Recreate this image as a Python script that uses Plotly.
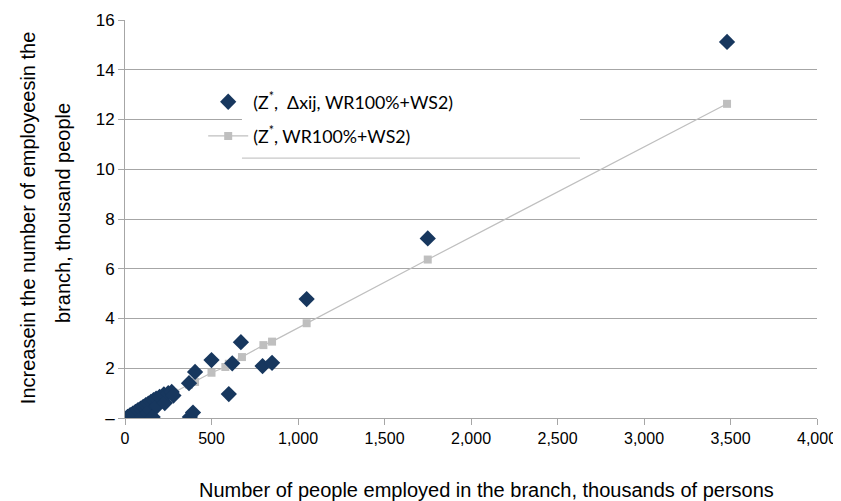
import plotly.graph_objects as go

# Blue diamonds: (Z*, Δxij, WR100%+WS2)
x_blue = [15, 30, 45, 60, 75, 90, 100, 105, 120, 130, 135, 145, 150, 160, 165, 180, 185, 200, 225, 230, 250, 270, 280,
          370, 375, 393, 405, 500, 600, 620, 670, 795, 850, 1050, 1750, 3480]
y_blue = [0.05, 0.12, 0.18, 0.25, 0.32, 0.38, 0.05, 0.45, 0.52, 0.2, 0.58, 0.32, 0.65, 0.04, 0.72, 0.78, 0.48, 0.85, 0.95, 0.6, 1.0, 1.05, 0.9,
          1.4, 0.04, 0.22, 1.85, 2.33, 0.96, 2.2, 3.05, 2.09, 2.22, 4.78, 7.22, 15.12]

# Grey squares with line: (Z*, WR100%+WS2)
x_grey = [0, 100, 200, 280, 370, 405, 500, 580, 600, 676, 800, 850, 1050, 1750, 3480]
y_grey = [0.0, 0.36, 0.73, 1.02, 1.34, 1.45, 1.82, 2.05, 2.18, 2.45, 2.93, 3.07, 3.81, 6.37, 12.63]

y_tickvals = [0, 2, 4, 6, 8, 10, 12, 14, 16]
y_ticktext = ["–", "2", "4", "6", "8", "10", "12", "14", "16"]
x_tickvals = [0, 500, 1000, 1500, 2000, 2500, 3000, 3500, 4000]
x_ticktext = ["0", "500", "1,000", "1,500", "2,000", "2,500", "3,000", "3,500", "4,000"]

x_title = "Number of people employed in the branch, thousands of persons"
y_title_line1 = "Increasein the number of employeesin the"
y_title_line2 = "branch, thousand people"

NAVY = "#17375E"
GREY = "#BFBFBF"

fig = go.Figure()
fig.add_trace(go.Scatter(
    x=x_grey, y=y_grey, mode="lines+markers",
    name="(Z<sup>*</sup>, WR100%+WS2)",
    line=dict(color=GREY, width=1.2),
    marker=dict(symbol="square", size=8, color=GREY),
    legendgroup="b", legendrank=2,
))
fig.add_trace(go.Scatter(
    x=x_blue, y=y_blue, mode="markers",
    name="(Z<sup>*</sup>,  Δxij, WR100%+WS2)",
    marker=dict(symbol="diamond", size=12.5, color=NAVY),
    legendgroup="a", legendrank=1,
))

# legend backdrop and its bottom rule
fig.add_shape(type="rect", xref="x", yref="y", x0=676, x1=2630, y0=10.45, y1=13.27,
              fillcolor="white", line=dict(width=0), layer="between")
fig.add_shape(type="line", xref="x", yref="y", x0=676, x1=2630, y0=10.45, y1=10.45,
              line=dict(color="#C8C8C8", width=1.2), layer="between")

title_font = dict(family="Liberation Sans, Arial, sans-serif", size=20, color="#000000")
fig.add_annotation(text=x_title, xref="paper", yref="paper", x=0.522, y=-0.181,
                   xanchor="center", yanchor="middle", showarrow=False, font=title_font)
fig.add_annotation(text=y_title_line1, xref="paper", yref="paper", x=-0.140, y=0.5025,
                   xanchor="center", yanchor="middle", textangle=-90, showarrow=False, font=title_font)
fig.add_annotation(text=y_title_line2, xref="paper", yref="paper", x=-0.0896, y=0.515,
                   xanchor="center", yanchor="middle", textangle=-90, showarrow=False, font=title_font)

# page body has an 8px default margin; size the figure so the plot area lands where the reference has it
fig.update_layout(
    width=833, height=493,
    margin=dict(l=117, r=24, t=12, b=83, autoexpand=False),
    paper_bgcolor="white", plot_bgcolor="white",
    font=dict(family="Liberation Sans, Arial, sans-serif", color="#000000"),
    showlegend=True,
    legend=dict(
        x=0.113, y=0.84, xanchor="left", yanchor="top",
        bgcolor="rgba(0,0,0,0)", borderwidth=0,
        font=dict(family="Lato, Open Sans, sans-serif", size=17.8, color="#000000"),
        tracegroupgap=8, itemwidth=40, traceorder="grouped",
    ),
    xaxis=dict(
        range=[0, 4000], tickvals=x_tickvals, ticktext=x_ticktext,
        showgrid=False, zeroline=False, automargin=False,
        showline=True, linecolor="#A6A6A6", linewidth=1,
        ticks="outside", ticklen=6, tickcolor="#A6A6A6",
        tickfont=dict(size=16),
    ),
    yaxis=dict(
        range=[0, 16], tickvals=y_tickvals, ticktext=y_ticktext,
        showgrid=True, gridcolor="#A6A6A6", gridwidth=1, zeroline=False, automargin=False,
        showline=True, linecolor="#A6A6A6", linewidth=1,
        ticks="outside", ticklen=6, tickcolor="#A6A6A6",
        tickfont=dict(size=17),
    ),
)

fig.write_html("out.html")
